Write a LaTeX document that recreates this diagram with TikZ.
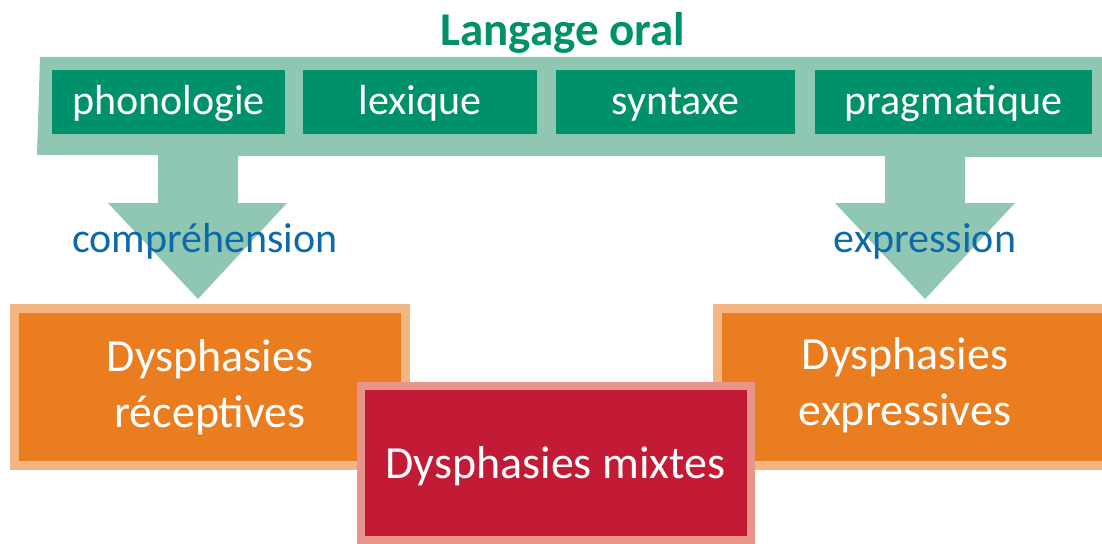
\documentclass[tikz,border=0pt]{standalone}
\usepackage{fontspec}
\setmainfont{Carlito}
\definecolor{banner}{HTML}{8FC7B2}
\definecolor{dgreen}{HTML}{00906A}
\definecolor{lblue}{HTML}{0C6AAA}
\definecolor{dorange}{HTML}{E97D1F}
\definecolor{lorange}{HTML}{F3B683}
\definecolor{dred}{HTML}{C31A35}
\definecolor{pinkb}{HTML}{E9948A}
\begin{document}
\begin{tikzpicture}[x=1pt,y=-1pt,
  gbox/.style={fill=dgreen, text=white, inner sep=0pt, minimum height=64pt,
    text height=36pt, text depth=12pt,
    font=\fontsize{42}{50}\selectfont},
  lbl/.style={text=lblue, inner sep=0pt, font=\fontsize{42}{50}\selectfont},
  obox/.style={fill=dorange, draw=lorange, line width=9pt, text=white, inner sep=0pt,
    align=center, font=\fontsize{46}{56}\selectfont},
  rbox/.style={fill=dred, draw=pinkb, line width=8pt, text=white, inner sep=0pt,
    text height=40pt, text depth=9pt,
    align=center, font=\fontsize{46}{56}\selectfont}]
\clip (0,0) rectangle (1102,543);
% banner with two arrows
\fill[banner] (40,57) -- (1102,57) -- (1102,157) -- (965,157) -- (965,203) -- (1015,203)
  -- (925,299) -- (835,203) -- (885,203) -- (885,156) -- (238,156) -- (238,203)
  -- (287,203) -- (198,299) -- (108,203) -- (158,203) -- (158,155) -- (37,155) -- cycle;
\node[text=dgreen, inner sep=0pt, font=\fontsize{47}{56}\selectfont\bfseries] (title) at (563,33) {Langage oral};
\node[gbox, minimum width=233pt] (phon) at (168.5,102) {phonologie};
\node[gbox, minimum width=234pt] (lex) at (420,102) {lexique};
\node[gbox, minimum width=239pt] (syn) at (675.5,102) {syntaxe};
\node[gbox, minimum width=277pt] (prag) at (953.5,102) {pragmatique};
\node[lbl] (comp) at (205,241) {compréhension};
\node[lbl] (expr) at (925,241) {expression};
\node[obox, minimum width=391pt, minimum height=157pt] (rec) at (210,387) {Dysphasies\\réceptives};
\node[obox, minimum width=400pt, minimum height=157pt] (exp) at (917,387) {};
\node[text=white, inner sep=0pt, align=center, font=\fontsize{46}{56}\selectfont] (expt) at (905,385) {Dysphasies\\expressives};
\node[rbox, minimum width=390pt, minimum height=154pt] (mix) at (555.5,462.5) {Dysphasies mixtes};
\end{tikzpicture}
\end{document}
